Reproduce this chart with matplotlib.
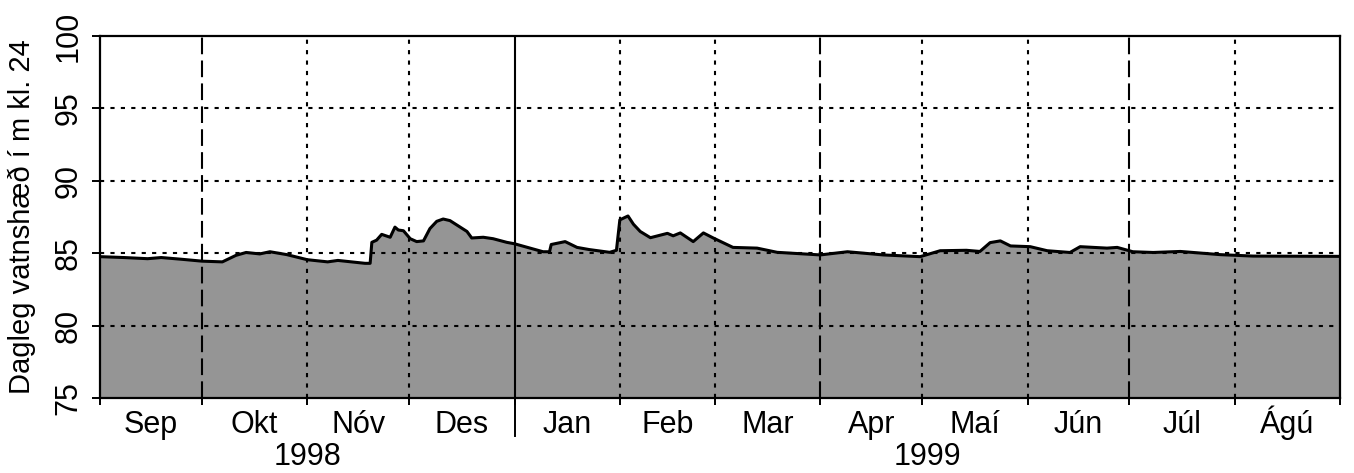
import matplotlib.pyplot as plt
import numpy as np

plt.rcParams['font.family'] = ['Liberation Sans', 'DejaVu Sans']

# day number from 1 Sep 1998, water level (m)
days = [0, 7, 14, 18, 24, 30, 36, 40, 43, 47, 50, 55, 61, 67, 70, 78, 79.5,
        80, 81.4, 82.9, 85.4, 86.8, 87.8, 89.3, 91.3, 93.2, 95.2, 97.1, 99.1,
        101, 103, 105, 108, 109.4, 112.8, 115.7, 119.7, 122, 130.4, 132.3,
        132.8, 136.9, 140.4, 144, 150, 152, 153, 155.4, 157, 159, 162, 167,
        168.7, 170.8, 174.6, 177.6, 180.5, 186.3, 193.4, 199.3, 212, 220,
        230.5, 241.4, 247.3, 255, 259, 262, 265, 268, 273.8, 278.8, 285.5,
        288.5, 296.4, 299.4, 304, 310, 318, 329.7, 339.4, 365]
level = [84.76, 84.7, 84.62, 84.7, 84.58, 84.45, 84.4, 84.85, 85.05, 84.95,
         85.1, 84.9, 84.55, 84.4, 84.5, 84.3, 84.3,
         85.75, 85.9, 86.3, 86.1, 86.8, 86.6, 86.55, 86.0, 85.8, 85.85, 86.7,
         87.2, 87.36, 87.25, 86.95, 86.5, 86.05, 86.1, 86.0, 85.75, 85.65,
         85.1, 85.1, 85.6, 85.8, 85.4, 85.25, 85.06, 85.2, 87.3, 87.57, 87.0,
         86.5, 86.07, 86.37, 86.2, 86.4, 85.8, 86.4, 86.05, 85.4, 85.35,
         85.06, 84.88, 85.1, 84.88, 84.76, 85.17, 85.2, 85.12, 85.73, 85.85,
         85.5, 85.45, 85.17, 85.05, 85.45, 85.35, 85.4, 85.1, 85.05, 85.12,
         84.9, 84.8, 84.78]

month_starts = [0, 30, 61, 91, 122, 153, 181, 212, 242, 273, 303, 334, 365]
month_names = ['Sep', 'Okt', 'Nóv', 'Des', 'Jan', 'Feb', 'Mar', 'Apr',
               'Maí', 'Jún', 'Júl', 'Ágú']
years = ['1998', '1999']

fig = plt.figure(figsize=(13.54, 4.73), dpi=100)
ax = fig.add_axes([0.0739, 0.1586, 0.9158, 0.7653])

ax.fill_between(days, 75, level, color='#959595', lw=0, zorder=1)
ax.plot(days, level, color='black', lw=2.2, zorder=3)

# grid
for y in [80, 85, 90, 95]:
    ax.axhline(y, color='black', lw=1.5, ls=(0, (2, 3)), zorder=2)
for i, d in enumerate(month_starts[1:-1], start=1):
    if d == 122:
        ax.axvline(d, color='black', lw=1.5, zorder=2)
    elif i in (1, 7, 10):
        ax.axvline(d, color='black', lw=1.5, ls=(0, (8, 3)), zorder=2)
    else:
        ax.axvline(d, color='black', lw=1.5, ls=(0, (2, 3)), zorder=2)

ax.set_xlim(0, 365)
ax.set_ylim(75, 100)
ax.set_yticks([75, 80, 85, 90, 95, 100])
ax.set_yticklabels(['75', '80', '85', '90', '95', '100'], rotation=90,
                   va='center', fontsize=22)
ax.set_ylabel('Dagleg vatnshæð í m kl. 24', fontsize=21)
ax.yaxis.set_label_coords(-0.052, 0.5)

ax.set_xticks(month_starts)
ax.set_xticklabels([])
ax.tick_params(axis='x', length=5, width=1.4, direction='out')
ax.tick_params(axis='y', length=6, width=1.4, direction='out', pad=6)

xt = ax.get_xaxis_transform()
mids = [(a + b) / 2 for a, b in zip(month_starts[:-1], month_starts[1:])]
for m, name in zip(mids, month_names):
    ax.text(m, -0.097, name, transform=xt, ha='center', va='baseline',
            fontsize=22)

for s in ax.spines.values():
    s.set_linewidth(1.6)

# year separator and year labels
ax.plot([122, 122], [0, -0.105], color='black', lw=1.4,
        transform=xt, clip_on=False)
ax.text(122 / 2, -0.186, years[0], transform=xt,
        ha='center', va='baseline', fontsize=22)
ax.text((122 + 365) / 2, -0.186, years[1], transform=xt,
        ha='center', va='baseline', fontsize=22)

fig.savefig('out.png', dpi=100)
